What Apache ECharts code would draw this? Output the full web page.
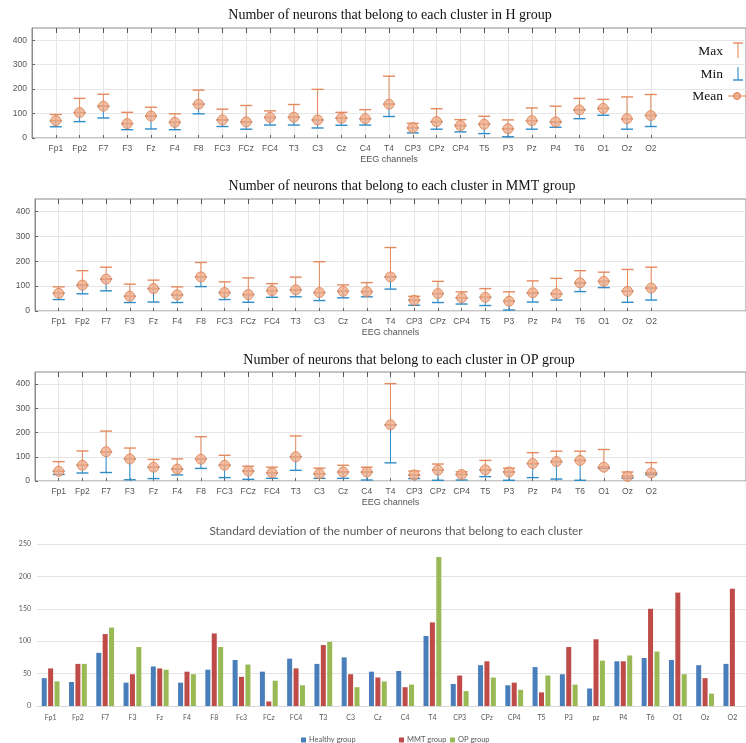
<!DOCTYPE html>
<html><head><meta charset="utf-8">
<script src="https://cdn.jsdelivr.net/npm/echarts@6/dist/echarts.min.js"></script>
<style>html,body{margin:0;padding:0;background:#fff}#c{width:746px;height:743px}</style>
</head><body><div id="c"></div>
<script>
// ---------- data ----------
const channels = ['Fp1','Fp2','F7','F3','Fz','F4','F8','FC3','FCz','FC4','T3','C3','Cz','C4','T4','CP3','CPz','CP4','T5','P3','Pz','P4','T6','O1','Oz','O2'];
const yTicks = [0,100,200,300,400];

const hMax  = [96,162,179,105,126,99,196,118,133,111,137,199,105,116,253,60,120,75,89,74,123,130,162,158,168,178];
const hMean = [71,104,130,59,90,64,138,74,66,84,85,74,81,79,138,42,67,51,56,38,71,66,115,121,79,92];
const hMin  = [46,67,82,34,37,34,99,47,36,53,53,41,52,53,88,21,36,25,18,5,36,44,79,93,36,47];

const mMax  = [97,162,176,108,124,97,195,117,133,110,136,198,105,114,255,59,119,77,90,77,121,131,162,156,167,176];
const mMean = [71,104,128,59,90,65,137,74,66,82,85,74,79,78,137,43,70,53,55,39,73,69,113,119,79,92];
const mMin  = [46,69,81,34,36,34,98,46,35,55,57,42,53,57,88,23,34,28,22,4,36,44,78,94,35,44];

const oMax  = [80,124,206,136,89,91,183,106,61,57,186,53,65,57,402,41,70,38,85,53,117,123,123,130,37,76];
const oMean = [40,65,121,91,57,49,90,65,41,34,100,30,37,37,232,25,45,27,46,37,72,80,85,57,19,33];
const oMin  = [27,33,35,5,10,25,52,14,7,11,44,11,11,4,75,10,3,4,18,3,14,8,3,52,11,26];

const sdChannels = ['Fp1','Fp2','F7','F3','Fz','F4','F8','Fc3','FCz','FC4','T3','C3','Cz','C4','T4','CP3','CPz','CP4','T5','P3','pz','P4','T6','O1','Oz','O2'];
const sdHealthy = [43,37,82,36,61,36,56,71,53,73,65,75,53,54,108,34,63,32,60,49,27,69,74,71,63,65];
const sdMMT     = [58,65,111,49,58,53,112,45,7,58,94,49,44,29,129,47,69,36,21,91,103,69,150,175,43,181];
const sdOP      = [38,65,121,91,56,49,91,64,39,32,99,29,38,33,230,23,44,25,47,33,70,78,84,49,19,null]; // O2 cut off in reference
const sdTicks = [0,50,100,150,200,250];

// ---------- styling ----------
const ORANGE = '#e48a5e', BLUE = '#2f8cc7';
const panels = [
  {title:'Number of neurons that belong to each cluster in H group', max:hMax, mean:hMean, min:hMin, left:32, top:28, height:110, tx:390, ty:15},
  {title:'Number of neurons that belong to each cluster in MMT group', max:mMax, mean:mMean, min:mMin, left:35, top:199, height:112, tx:402, ty:186},
  {title:'Number of neurons that belong to each cluster in OP group', max:oMax, mean:oMean, min:oMin, left:35, top:372, height:109, tx:409, ty:360}
];
const chTicks = channels.map((c,i)=>i+1);

function errRender(color){
  return function(params, api){
    const x = api.value(0), lo = api.value(1), hi = api.value(2);
    const pL = api.coord([x, lo]), pH = api.coord([x, hi]);
    const hw = 6;
    const st = {stroke: color, lineWidth: 1};
    const cs = {stroke: color, lineWidth: 1.4};
    return {type:'group', children:[
      {type:'line', shape:{x1:pL[0], y1:pL[1], x2:pH[0], y2:pH[1]}, style:st},
      {type:'line', shape:{x1:pL[0]-hw, y1:pL[1], x2:pL[0]+hw, y2:pL[1]}, style:cs},
      {type:'line', shape:{x1:pH[0]-hw, y1:pH[1], x2:pH[0]+hw, y2:pH[1]}, style:cs}
    ]};
  };
}

const grid = [], xAxis = [], yAxis = [], series = [], graphic = [];
panels.forEach((p, i) => {
  grid.push({left:p.left, top:p.top, width:722, height:p.height, show:true, borderColor:'#8c8c8c', borderWidth:1});
  xAxis.push({type:'value', gridIndex:i, min:0, max:30, interval:1,
    axisLine:{show:false},
    axisTick:{customValues:chTicks, inside:true, length:3, lineStyle:{color:'#666'}},
    axisLabel:{customValues:chTicks, formatter:v=>channels[v-1]||'', color:'#555', fontSize:8.5, margin:6, fontFamily:'Liberation Sans'},
    splitLine:{show:true, lineStyle:{color:'#e6e6e6', width:1}},
    name:'EEG channels', nameLocation:'middle', nameGap:17,
    nameTextStyle:{color:'#555', fontSize:9, fontFamily:'Liberation Sans'}
  });
  xAxis.push({type:'value', gridIndex:i, position:'top', min:0, max:30, interval:1,
    axisLine:{show:false},
    axisTick:{customValues:chTicks, inside:true, length:5, lineStyle:{color:'#555'}},
    axisLabel:{show:false}, splitLine:{show:false}
  });
  yAxis.push({type:'value', gridIndex:i, min:0, max:450, interval:100,
    axisLine:{show:true, lineStyle:{color:'#8c8c8c'}},
    axisTick:{customValues:yTicks, inside:true, length:3, lineStyle:{color:'#666'}},
    axisLabel:{customValues:yTicks, color:'#555', fontSize:8.5, margin:5, fontFamily:'Liberation Sans'},
    splitLine:{show:true, lineStyle:{color:'#e6e6e6'}}
  });
  series.push({type:'custom', name:'Min', xAxisIndex:2*i, yAxisIndex:i, renderItem:errRender(BLUE),
    encode:{x:0, y:[1,2]}, data:p.min.map((v,k)=>[k+1, v, p.mean[k]]), z:2});
  series.push({type:'custom', name:'Max', xAxisIndex:2*i, yAxisIndex:i, renderItem:errRender(ORANGE),
    encode:{x:0, y:[1,2]}, data:p.max.map((v,k)=>[k+1, p.mean[k], v]), z:3});
  series.push({type:'scatter', name:'Mean', xAxisIndex:2*i, yAxisIndex:i, symbol:'circle', symbolSize:10,
    itemStyle:{color:'rgba(238,170,135,0.95)', borderColor:'#dc8050', borderWidth:1}, z:4,
    data:p.mean.map((v,k)=>[k+1, v])});
  graphic.push({type:'text', x:p.tx, y:p.ty, z:100, style:{text:p.title, font:'14px "Liberation Serif"', fill:'#111', align:'center', verticalAlign:'middle'}});
});

// bar chart
grid.push({left:37, top:544, width:718, height:162});
xAxis.push({type:'category', gridIndex:3, data:sdChannels,
  axisLine:{show:true, lineStyle:{color:'#d9d9d9'}}, axisTick:{show:false},
  axisLabel:{color:'#595959', fontSize:7, margin:8, fontFamily:'Lato', interval:0}});
yAxis.push({type:'value', gridIndex:3, min:0, max:250, interval:50,
  axisLine:{show:false}, axisTick:{show:false},
  axisLabel:{color:'#595959', fontSize:7, margin:6, fontFamily:'Lato'},
  splitLine:{lineStyle:{color:'#e3e3e3'}}});
const barCols = ['#4a7ebb','#be4b48','#98b954'];
[['Healthy group', sdHealthy], ['MMT group', sdMMT], ['OP group', sdOP]].forEach((s, k) => {
  series.push({type:'bar', name:s[0], xAxisIndex:6, yAxisIndex:3, data:s[1], barWidth:5, barGap:'28%',
    itemStyle:{color:barCols[k]}});
});
graphic.push({type:'text', x:396, y:531, z:100, style:{text:'Standard deviation of the number of neurons that belong to each cluster', font:'11.8px Lato', fill:'#595959', align:'center', verticalAlign:'middle'}});

// top legend (H panel)
const lg = [
  {type:'text', x:723, y:51, style:{text:'Max', font:'13.5px "Liberation Serif"', fill:'#111', align:'right', verticalAlign:'middle'}},
  {type:'text', x:723, y:74, style:{text:'Min', font:'13.5px "Liberation Serif"', fill:'#111', align:'right', verticalAlign:'middle'}},
  {type:'text', x:723, y:96, style:{text:'Mean', font:'13.5px "Liberation Serif"', fill:'#111', align:'right', verticalAlign:'middle'}},
  {type:'line', shape:{x1:738, y1:43, x2:738, y2:58}, style:{stroke:ORANGE, lineWidth:1.1}},
  {type:'line', shape:{x1:733, y1:43, x2:743, y2:43}, style:{stroke:ORANGE, lineWidth:1.4}},
  {type:'line', shape:{x1:738, y1:67, x2:738, y2:80}, style:{stroke:BLUE, lineWidth:1.1}},
  {type:'line', shape:{x1:733, y1:80, x2:743, y2:80}, style:{stroke:BLUE, lineWidth:1.4}},
  {type:'line', shape:{x1:728, y1:96, x2:746, y2:96}, style:{stroke:ORANGE, lineWidth:1.1}},
  {type:'circle', shape:{cx:737, cy:96, r:3.5}, style:{fill:'rgba(238,170,135,0.95)', stroke:'#dc8050', lineWidth:1}}
];
lg.forEach(g=>{g.z=100; graphic.push(g);});

const legendPos = [['Healthy group',296], ['MMT group',394], ['OP group',445]];
const legend = legendPos.map(l => ({data:[l[0]], left:l[1], top:731, icon:'rect', itemWidth:5, itemHeight:5, itemGap:4,
  textStyle:{color:'#595959', fontSize:7.5, fontFamily:'Lato', padding:[0,0,0,-2]}}));

const chart = echarts.init(document.getElementById('c'), null, {renderer:'canvas'});
chart.setOption({animation:false, backgroundColor:'#fff', grid, xAxis, yAxis, series, graphic, legend});
</script></body></html>
